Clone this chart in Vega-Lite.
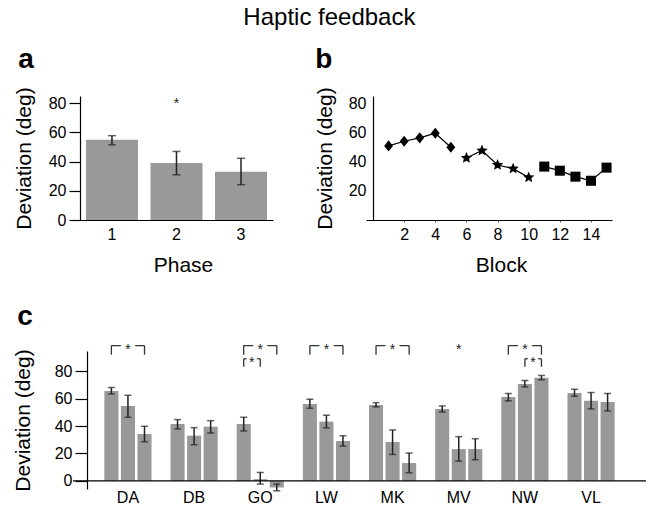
{
  "$schema": "https://vega.github.io/schema/vega-lite/v6.json",
  "padding": {"left": 12, "top": 5, "right": 0, "bottom": 0},
  "background": "white",
  "title": {"text": "Haptic feedback", "fontSize": 24, "fontWeight": "normal", "anchor": "middle", "offset": 16, "color": "#000"},
  "datasets": {
    "a": [
      {"phase": 1, "dev": 55, "lo": 51.5, "hi": 57.8},
      {"phase": 2, "dev": 39, "lo": 31, "hi": 47},
      {"phase": 3, "dev": 33, "lo": 24.2, "hi": 42.3}
    ],
    "b": [
      {"block": 1, "dev": 50.8, "phase": "1"},
      {"block": 2, "dev": 54.0, "phase": "1"},
      {"block": 3, "dev": 56.3, "phase": "1"},
      {"block": 4, "dev": 59.5, "phase": "1"},
      {"block": 5, "dev": 49.9, "phase": "1"},
      {"block": 6, "dev": 42.5, "phase": "2"},
      {"block": 7, "dev": 47.6, "phase": "2"},
      {"block": 8, "dev": 37.7, "phase": "2"},
      {"block": 9, "dev": 35.2, "phase": "2"},
      {"block": 10, "dev": 29.2, "phase": "2"},
      {"block": 11, "dev": 36.6, "phase": "3"},
      {"block": 12, "dev": 33.8, "phase": "3"},
      {"block": 13, "dev": 29.7, "phase": "3"},
      {"block": 14, "dev": 26.9, "phase": "3"},
      {"block": 15, "dev": 35.9, "phase": "3"}
    ],
    "c": [
      {"group": "DA", "phase": "1", "dev": 65.8, "lo": 63.6, "hi": 68.3},
      {"group": "DA", "phase": "2", "dev": 54.8, "lo": 46.5, "hi": 62.6},
      {"group": "DA", "phase": "3", "dev": 34.3, "lo": 28.6, "hi": 39.9},
      {"group": "DB", "phase": "1", "dev": 41.6, "lo": 37.9, "hi": 44.8},
      {"group": "DB", "phase": "2", "dev": 33.0, "lo": 26.4, "hi": 38.9},
      {"group": "DB", "phase": "3", "dev": 39.6, "lo": 35.0, "hi": 44.0},
      {"group": "GO", "phase": "1", "dev": 41.6, "lo": 36.5, "hi": 46.5},
      {"group": "GO", "phase": "2", "dev": 1.2, "lo": -2.4, "hi": 6.1},
      {"group": "GO", "phase": "3", "dev": -4.9, "lo": -7.3, "hi": -2.4},
      {"group": "LW", "phase": "1", "dev": 56.3, "lo": 53.1, "hi": 59.7},
      {"group": "LW", "phase": "2", "dev": 43.3, "lo": 38.7, "hi": 48.0},
      {"group": "LW", "phase": "3", "dev": 29.1, "lo": 25.4, "hi": 33.0},
      {"group": "MK", "phase": "1", "dev": 55.5, "lo": 54.1, "hi": 57.2},
      {"group": "MK", "phase": "2", "dev": 28.4, "lo": 19.3, "hi": 37.2},
      {"group": "MK", "phase": "3", "dev": 13.0, "lo": 5.9, "hi": 20.3},
      {"group": "MV", "phase": "1", "dev": 52.6, "lo": 50.4, "hi": 54.8},
      {"group": "MV", "phase": "2", "dev": 23.2, "lo": 14.4, "hi": 32.3},
      {"group": "MV", "phase": "3", "dev": 23.2, "lo": 15.4, "hi": 30.8},
      {"group": "NW", "phase": "1", "dev": 61.4, "lo": 58.5, "hi": 63.9},
      {"group": "NW", "phase": "2", "dev": 70.9, "lo": 68.7, "hi": 73.4},
      {"group": "NW", "phase": "3", "dev": 75.4, "lo": 73.9, "hi": 77.1},
      {"group": "VL", "phase": "1", "dev": 64.3, "lo": 61.9, "hi": 67.0},
      {"group": "VL", "phase": "2", "dev": 58.5, "lo": 52.6, "hi": 64.6},
      {"group": "VL", "phase": "3", "dev": 57.7, "lo": 51.1, "hi": 63.9}
    ],
    "brackets": [
      {"br": "DA", "group": "DA", "phase": "1", "level": "outer"},
      {"br": "DA", "group": "DA", "phase": "3", "level": "outer"},
      {"br": "GO", "group": "GO", "phase": "1", "level": "outer"},
      {"br": "GO", "group": "GO", "phase": "3", "level": "outer"},
      {"br": "GOi", "group": "GO", "phase": "1", "level": "inner"},
      {"br": "GOi", "group": "GO", "phase": "2", "level": "inner"},
      {"br": "LW", "group": "LW", "phase": "1", "level": "outer"},
      {"br": "LW", "group": "LW", "phase": "3", "level": "outer"},
      {"br": "MK", "group": "MK", "phase": "1", "level": "outer"},
      {"br": "MK", "group": "MK", "phase": "3", "level": "outer"},
      {"br": "NW", "group": "NW", "phase": "1", "level": "outer"},
      {"br": "NW", "group": "NW", "phase": "3", "level": "outer"},
      {"br": "NWi", "group": "NW", "phase": "2", "level": "inner"},
      {"br": "NWi", "group": "NW", "phase": "3", "level": "inner"}
    ],
    "stars": [
      {"group": "DA", "phase": "2", "level": "outer"},
      {"group": "GO", "phase": "2", "level": "outer"},
      {"group": "LW", "phase": "2", "level": "outer"},
      {"group": "MK", "phase": "2", "level": "outer"},
      {"group": "MV", "phase": "2", "level": "outer"},
      {"group": "NW", "phase": "2", "level": "outer"},
      {"group": "GO", "phase": "1", "level": "inner"},
      {"group": "NW", "phase": "2", "level": "inner"}
    ]
  },
  "vconcat": [
    {
      "hconcat": [
        {
          "width": 200,
          "height": 124,
          "title": {"text": "a", "anchor": "start", "frame": "bounds", "fontSize": 28, "fontWeight": "bold", "dx": 5, "offset": 13, "color": "#000"},
          "layer": [
            {
              "data": {"name": "a"},
              "mark": {"type": "bar", "color": "#999999"},
              "encoding": {
                "x": {"field": "phase", "type": "ordinal", "scale": {"paddingInner": 0.194, "paddingOuter": 0.147, "align": 0.684},
                      "axis": {"title": "Phase", "labelAngle": 0, "ticks": false, "labelPadding": 6, "titlePadding": 12, "titleX": 110}},
                "y": {"field": "dev", "type": "quantitative", "scale": {"domain": [0, 85], "nice": false},
                      "axis": {"title": "Deviation (deg)", "tickCount": 5, "labelOverlap": false, "tickSize": 11, "labelPadding": 3, "offset": -7, "titlePadding": 14}}
              }
            },
            {
              "data": {"name": "a"},
              "mark": {"type": "rule", "color": "#222222", "strokeWidth": 1.5},
              "encoding": {
                "x": {"field": "phase", "type": "ordinal"},
                "y": {"field": "lo", "type": "quantitative"},
                "y2": {"field": "hi"}
              }
            },
            {
              "data": {"name": "a"},
              "mark": {"type": "tick", "color": "#222222", "size": 8, "thickness": 1.5},
              "encoding": {
                "x": {"field": "phase", "type": "ordinal"},
                "y": {"field": "lo", "type": "quantitative"}
              }
            },
            {
              "data": {"name": "a"},
              "mark": {"type": "tick", "color": "#222222", "size": 8, "thickness": 1.5},
              "encoding": {
                "x": {"field": "phase", "type": "ordinal"},
                "y": {"field": "hi", "type": "quantitative"}
              }
            },
            {
              "data": {"values": [{"phase": 2}]},
              "mark": {"type": "text", "text": "*", "fontSize": 14, "dy": 8, "baseline": "alphabetic", "color": "#222222"},
              "encoding": {
                "x": {"field": "phase", "type": "ordinal"},
                "y": {"datum": 82}
              }
            }
          ]
        },
        {
          "width": 246,
          "height": 124,
          "title": {"text": "b", "anchor": "start", "frame": "bounds", "fontSize": 28, "fontWeight": "bold", "dx": 1, "offset": 13, "color": "#000"},
          "data": {"name": "b"},
          "layer": [
            {
              "mark": {"type": "line", "color": "#000000", "strokeWidth": 1.2},
              "encoding": {
                "x": {"field": "block", "type": "quantitative", "scale": {"domain": [-0.45, 15.35], "nice": false, "zero": false},
                      "axis": {"title": "Block", "values": [2, 4, 6, 8, 10, 12, 14], "labelOverlap": false, "labelFlush": false,
                               "tickSize": 2, "tickColor": "#555555", "tickWidth": 1, "labelPadding": 4, "titlePadding": 12, "titleX": 135}},
                "y": {"field": "dev", "type": "quantitative", "scale": {"domain": [0, 85], "nice": false},
                      "axis": {"title": "Deviation (deg)", "values": [20, 40, 60, 80], "labelOverlap": false, "ticks": false, "labelPadding": 7, "offset": -7, "titlePadding": 13}},
                "detail": {"field": "phase"}
              }
            },
            {
              "mark": {"type": "point", "filled": true, "opacity": 1, "color": "#000000", "size": 130},
              "encoding": {
                "x": {"field": "block", "type": "quantitative"},
                "y": {"field": "dev", "type": "quantitative"},
                "shape": {"field": "phase", "type": "nominal", "legend": null,
                          "scale": {"domain": ["1", "2", "3"], "range": [
                            "M0,-0.97L0.78,0L0,0.97L-0.78,0Z",
                            "M0,-1.05L0.278,-0.382L1,-0.324L0.45,0.146L0.618,0.85L0,0.473L-0.618,0.85L-0.45,0.146L-1,-0.324L-0.278,-0.382Z",
                            "M-0.88,-0.88L0.88,-0.88L0.88,0.88L-0.88,0.88Z"]}}
              }
            }
          ]
        }
      ],
      "spacing": 41
    },
    {
      "width": 573,
      "height": 138,
      "title": {"text": "c", "anchor": "start", "frame": "bounds", "fontSize": 28, "fontWeight": "bold", "dx": 5, "offset": 12, "color": "#000"},
      "layer": [
        {
          "data": {"name": "c"},
          "mark": {"type": "bar", "color": "#999999"},
          "encoding": {
            "x": {"field": "group", "type": "nominal", "scale": {"paddingInner": 0.287, "paddingOuter": 0.474},
                  "axis": {"title": null, "labelAngle": 0, "ticks": false, "domain": false, "labelPadding": 0}},
            "xOffset": {"field": "phase", "type": "nominal", "scale": {"domain": ["1", "2", "3"], "paddingInner": 0.15, "paddingOuter": 0}},
            "y": {"field": "dev", "type": "quantitative", "scale": {"domain": [-6, 95], "nice": false, "zero": false},
                  "axis": {"title": "Deviation (deg)", "tickCount": 5, "labelOverlap": false, "tickSize": 12, "labelPadding": 3, "offset": -14, "titlePadding": 21}}
          }
        },
        {
          "data": {"name": "c"},
          "mark": {"type": "rule", "color": "#222222", "strokeWidth": 1.5},
          "encoding": {
            "x": {"field": "group", "type": "nominal"},
            "xOffset": {"field": "phase", "type": "nominal"},
            "y": {"field": "lo", "type": "quantitative"},
            "y2": {"field": "hi"}
          }
        },
        {
          "data": {"name": "c"},
          "mark": {"type": "tick", "color": "#222222", "size": 7, "thickness": 1.5},
          "encoding": {
            "x": {"field": "group", "type": "nominal"},
            "xOffset": {"field": "phase", "type": "nominal"},
            "y": {"field": "lo", "type": "quantitative"}
          }
        },
        {
          "data": {"name": "c"},
          "mark": {"type": "tick", "color": "#222222", "size": 7, "thickness": 1.5},
          "encoding": {
            "x": {"field": "group", "type": "nominal"},
            "xOffset": {"field": "phase", "type": "nominal"},
            "y": {"field": "hi", "type": "quantitative"}
          }
        },
        {
          "data": {"values": [{}]},
          "mark": {"type": "rule", "color": "#000000", "strokeWidth": 1.2},
          "encoding": {"y": {"datum": 0}}
        },
        {
          "data": {"name": "brackets"},
          "transform": [{"filter": "datum.level == 'outer'"}],
          "mark": {"type": "line", "color": "#333333", "strokeWidth": 1.3},
          "encoding": {
            "x": {"field": "group", "type": "nominal"},
            "xOffset": {"field": "phase", "type": "nominal"},
            "y": {"datum": 99},
            "detail": {"field": "br"}
          }
        },
        {
          "data": {"name": "brackets"},
          "transform": [{"filter": "datum.level == 'outer'"}],
          "mark": {"type": "rule", "color": "#333333", "strokeWidth": 1.3},
          "encoding": {
            "x": {"field": "group", "type": "nominal"},
            "xOffset": {"field": "phase", "type": "nominal"},
            "y": {"datum": 92.3},
            "y2": {"datum": 99}
          }
        },
        {
          "data": {"name": "brackets"},
          "transform": [{"filter": "datum.level == 'inner'"}],
          "mark": {"type": "line", "color": "#333333", "strokeWidth": 1.3},
          "encoding": {
            "x": {"field": "group", "type": "nominal"},
            "xOffset": {"field": "phase", "type": "nominal"},
            "y": {"datum": 89.3},
            "detail": {"field": "br"}
          }
        },
        {
          "data": {"name": "brackets"},
          "transform": [{"filter": "datum.level == 'inner'"}],
          "mark": {"type": "rule", "color": "#333333", "strokeWidth": 1.3},
          "encoding": {
            "x": {"field": "group", "type": "nominal"},
            "xOffset": {"field": "phase", "type": "nominal"},
            "y": {"datum": 83.4},
            "y2": {"datum": 89.3}
          }
        },
        {
          "data": {"name": "stars"},
          "transform": [{"filter": "datum.level == 'outer'"}],
          "mark": {"type": "text", "text": "*", "fontSize": 14, "dy": 8, "baseline": "alphabetic", "fill": "#ffffff", "stroke": "#ffffff", "strokeWidth": 9},
          "encoding": {
            "x": {"field": "group", "type": "nominal"},
            "xOffset": {"field": "phase", "type": "nominal"},
            "y": {"datum": 99}
          }
        },
        {
          "data": {"name": "stars"},
          "transform": [{"filter": "datum.level == 'inner'"}],
          "mark": {"type": "text", "text": "*", "fontSize": 14, "dy": 8, "dx": 8, "baseline": "alphabetic", "fill": "#ffffff", "stroke": "#ffffff", "strokeWidth": 5},
          "encoding": {
            "x": {"field": "group", "type": "nominal"},
            "xOffset": {"field": "phase", "type": "nominal"},
            "y": {"datum": 89.3}
          }
        },
        {
          "data": {"name": "stars"},
          "transform": [{"filter": "datum.level == 'outer'"}],
          "mark": {"type": "text", "text": "*", "fontSize": 14, "dy": 8, "baseline": "alphabetic", "color": "#222222"},
          "encoding": {
            "x": {"field": "group", "type": "nominal"},
            "xOffset": {"field": "phase", "type": "nominal"},
            "y": {"datum": 99}
          }
        },
        {
          "data": {"name": "stars"},
          "transform": [{"filter": "datum.level == 'inner'"}],
          "mark": {"type": "text", "text": "*", "fontSize": 14, "dy": 8, "dx": 8, "baseline": "alphabetic", "color": "#222222"},
          "encoding": {
            "x": {"field": "group", "type": "nominal"},
            "xOffset": {"field": "phase", "type": "nominal"},
            "y": {"datum": 89.3}
          }
        }
      ]
    }
  ],
  "spacing": 27,
  "config": {
    "font": "Liberation Sans",
    "view": {"stroke": null},
    "axis": {"grid": false, "labelOverlap": false, "domainColor": "#000000", "tickColor": "#000000", "labelColor": "#000000", "titleColor": "#000000",
             "labelFontSize": 16, "titleFontSize": 21, "titleFontWeight": "normal", "domainWidth": 1.2, "tickWidth": 1.2}
  }
}
